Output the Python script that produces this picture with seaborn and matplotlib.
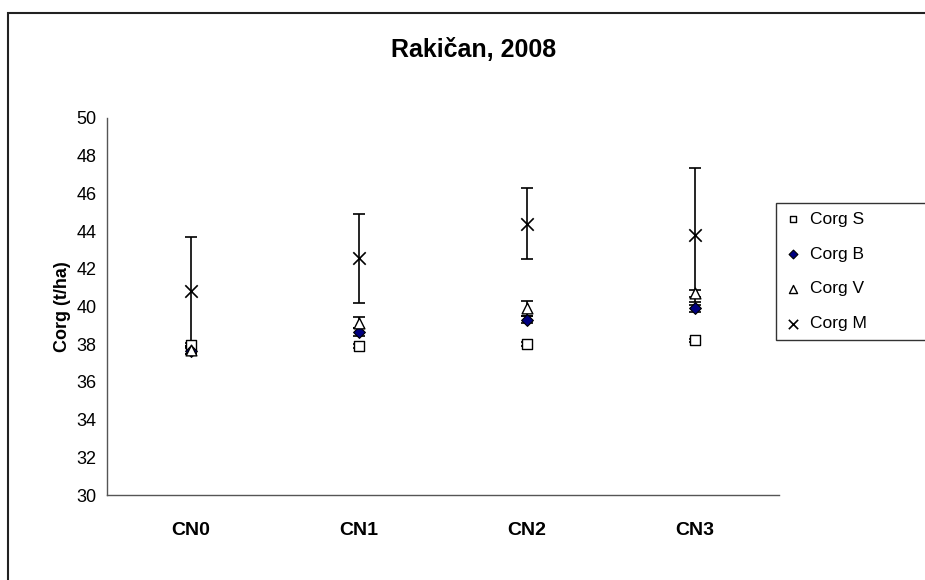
import numpy as np
import pandas as pd
import matplotlib
matplotlib.use("Agg")
import matplotlib.pyplot as plt
import matplotlib.patches as mpatches
import seaborn as sns

# data
categories = ["CN0", "CN1", "CN2", "CN3"]
series = ["Corg S", "Corg B", "Corg V", "Corg M"]
corg_s = [37.95, 37.9, 38.0, 38.2]
corg_b = [37.65, 38.65, 39.3, 39.9]
corg_v = [37.7, 39.15, 39.9, 40.7]
corg_m = [40.8, 42.55, 44.4, 43.8]
err_s = [0.1, 0.1, 0.1, 0.1]
err_b = [0.15, 0.2, 0.2, 0.2]
err_v = [0.2, 0.3, 0.4, 0.2]
err_m = [2.9, 2.35, 1.9, 3.55]

values = [corg_s, corg_b, corg_v, corg_m]
errors = [err_s, err_b, err_v, err_m]

df = pd.DataFrame({
    "cat": np.tile(categories, len(series)),
    "series": np.repeat(series, len(categories)),
    "val": np.concatenate(values),
    "err": np.concatenate(errors),
})
df["x"] = df["cat"].map({c: i for i, c in enumerate(categories)})

sns.set_style("white")
plt.rcParams["font.family"] = ["Liberation Sans", "DejaVu Sans"]
plt.rcParams["text.color"] = "black"
plt.rcParams["xtick.color"] = "black"
plt.rcParams["ytick.color"] = "black"
plt.rcParams["axes.labelcolor"] = "black"

fig = plt.figure(figsize=(9.25, 5.8), dpi=100)
ax = fig.add_axes([107 / 925, 85 / 580, 672 / 925, 377 / 580])

styles = {
    "Corg S": dict(marker="s", color="white", edgecolor="black", s=45, linewidth=1.0),
    "Corg B": dict(marker="D", color="#000080", edgecolor="black", s=36, linewidth=0.8),
    "Corg V": dict(marker="^", color="white", edgecolor="black", s=60, linewidth=1.0),
    "Corg M": dict(marker="x", color="black", s=80, linewidth=1.2),
}

for name in series:
    sub = df[df["series"] == name]
    ax.errorbar(sub["x"], sub["val"], yerr=sub["err"], fmt="none",
                ecolor="black", elinewidth=1.2, capsize=4.5, capthick=1.2,
                zorder=2)

for name in series:
    sub = df[df["series"] == name]
    sns.scatterplot(data=sub, x="x", y="val", ax=ax, label=name,
                    zorder=3, **styles[name])

ax.set_xlim(-0.5, 3.5)
ax.set_ylim(30, 50)
ax.set_yticks(np.arange(30, 51, 2))
ax.set_xticks(np.arange(-0.5, 3.6, 1.0), minor=False)
ax.set_xticklabels([])
ax.set_xticks(range(len(categories)), minor=True)
ax.set_xticklabels(categories, minor=True, fontweight="bold", fontsize=14)
ax.tick_params(axis="x", which="minor", length=0, pad=19.5)
ax.tick_params(axis="x", which="major", direction="out", length=6,
               color="#333333", width=1)
ax.tick_params(axis="y", direction="out", length=6, color="#333333",
               width=1, labelsize=13, pad=1.5)

for side in ["top", "right"]:
    ax.spines[side].set_visible(False)
for side in ["left", "bottom"]:
    ax.spines[side].set_color("#555555")
    ax.spines[side].set_linewidth(1.0)

ax.set_xlabel("")
ax.set_ylabel("Corg (t/ha)", fontweight="bold", fontsize=13, labelpad=4)
fig.text(474 / 925, 1 - 50 / 580, "Rakičan, 2008", fontweight="bold",
         fontsize=18, ha="center", va="center")

handles, labels = ax.get_legend_handles_labels()
ax.legend_.remove()
leg = fig.legend(handles, labels, loc="upper left",
                 bbox_to_anchor=(776 / 925, 237 / 580, 170 / 925, 140 / 580),
                 mode="expand", fontsize=12.5,
                 frameon=True, fancybox=False, edgecolor="black",
                 markerscale=0.75, handletextpad=0.45, labelspacing=1.13,
                 borderpad=0.5, handlelength=1.0, borderaxespad=0)
leg.get_frame().set_linewidth(1.0)
leg.set_zorder(5)

# outer chart area border
fig.patches.append(mpatches.Rectangle((8 / 925, -0.1), 2, (567 / 580) + 0.1,
                                      transform=fig.transFigure, fill=False,
                                      edgecolor="#222222", linewidth=1.5))

fig.savefig("out.png", dpi=100)
